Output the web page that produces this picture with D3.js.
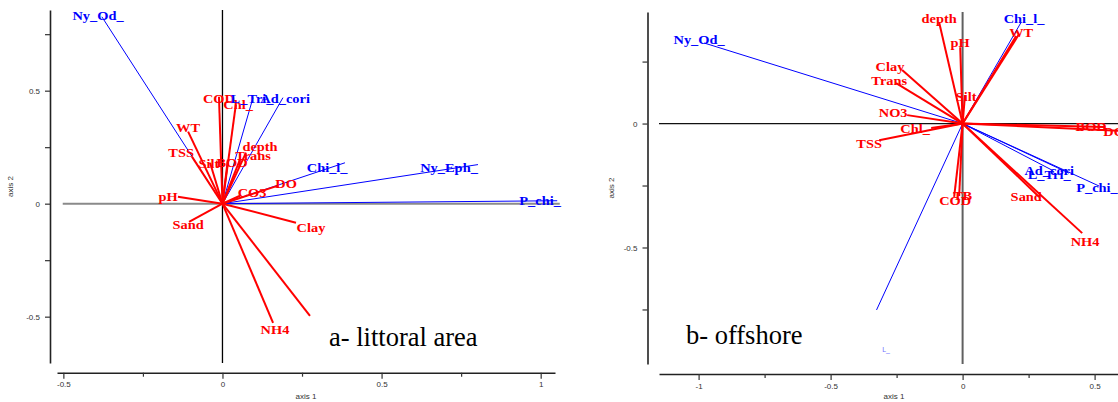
<!DOCTYPE html>
<html><head><meta charset="utf-8">
<script src="https://cdn.jsdelivr.net/npm/d3@7"></script>
<style>body{margin:0;background:#fff} svg{display:block}</style>
</head><body>
<svg id="c" width="1118" height="402"></svg>
<script>
// ---------- panel a : littoral area ----------
const aLabels = ["Ny_Od_","P_chi_","Ny_Eph_","Chi_l_","L_Tri_","Ad_cori","COD","Chl_","WT","TSS","Silt","BOD","depth","Trans","CO3","DO","pH","Sand","Clay","NH4",""];
const aGroups = ["sp","sp","sp","sp","sp","sp","env","env","env","env","env","env","env","env","env","env","env","env","env","env","env"];
const aAxis1  = [-0.379,1.052,0.803,0.385,0.096,0.190,-0.011,0.042,-0.108,-0.096,-0.039,0.017,0.074,0.055,0.055,0.175,-0.140,-0.105,0.231,0.159,0.275];
const aAxis2  = [0.827,0.013,0.173,0.181,0.469,0.469,0.473,0.438,0.319,0.208,0.181,0.195,0.226,0.195,0.035,0.080,0.031,-0.080,-0.084,-0.527,-0.496];
const aLab1   = [-0.391,0.998,0.712,0.329,0.093,0.197,-0.011,0.049,-0.108,-0.130,-0.043,0.030,0.118,0.096,0.093,0.200,-0.171,-0.108,0.278,0.165,0];
const aLab2   = [0.832,0.013,0.159,0.159,0.465,0.465,0.465,0.438,0.336,0.226,0.177,0.181,0.252,0.212,0.049,0.088,0.031,-0.093,-0.106,-0.558,0];
const aXTicks = [-0.5,-0.25,0,0.25,0.5,0.75,1];
const aXTickText = ["-0.5","","0","","0.5","","1"];
const aYTicks = [-0.5,-0.25,0,0.25,0.5,0.75];
const aYTickText = ["-0.5","","0","","0.5",""];
const aTitle = "a- littoral area";

// ---------- panel b : offshore ----------
const bLabels = ["Ny_Od_","Chi_l_","Ad_cori","L_Tri_","P_chi_","","depth","pH","WT","","Clay","Trans","Silt","NO3","Chl_","TSS","BOD","DO","COD","TB","Sand","NH4"];
const bGroups = ["sp","sp","sp","sp","sp","sp","env","env","env","env","env","env","env","env","env","env","env","env","env","env","env","env"];
const bAxis1  = [-0.979,0.222,0.403,0.339,0.517,-0.326,-0.089,-0.009,0.214,0.203,-0.229,-0.252,0.009,-0.210,-0.119,-0.316,0.536,0.612,-0.032,-0.013,0.290,0.453];
const bAxis2  = [0.325,0.409,-0.200,-0.188,-0.252,-0.752,0.409,0.308,0.361,0.353,0.216,0.163,0.115,0.034,-0.018,-0.067,-0.014,-0.030,-0.296,-0.292,-0.296,-0.442];
const bLab1   = [-0.998,0.233,0.328,0.328,0.509,0,-0.089,-0.009,0.222,0,-0.275,-0.278,0.013,-0.263,-0.180,-0.354,0.487,0.574,-0.028,0,0.241,0.464];
const bLab2   = [0.337,0.425,-0.192,-0.208,-0.260,0,0.425,0.325,0.365,0,0.228,0.171,0.107,0.042,-0.022,-0.083,-0.014,-0.034,-0.313,-0.292,-0.296,-0.478];
const bStrayText = ["L_"];
const bStray1 = [-0.290];
const bStray2 = [-0.917];
const bXTicks = [-1,-0.75,-0.5,-0.25,0,0.25,0.5];
const bXTickText = ["-1","","-0.5","","0","","0.5"];
const bYTicks = [-0.75,-0.5,-0.25,0,0.25];
const bYTickText = ["","-0.5","","0",""];
const bTitle = "b- offshore";

const svg = d3.select("#c");
const COLORS = {sp:"#0000ff", env:"#ff0000"};

function panel(cfg){
  const xs = d3.scaleLinear().domain(cfg.xDom).range(cfg.xRange);
  const ys = d3.scaleLinear().domain(cfg.yDom).range(cfg.yRange);
  const g = svg.append("g");

  // axes
  const xAx = d3.axisBottom(xs).tickValues(cfg.xTicks)
      .tickFormat((d,i)=>cfg.xTickText[i]).tickSizeOuter(0).tickSizeInner(6).tickPadding(3);
  const gx = g.append("g").attr("transform",`translate(0,${cfg.xAxisY})`).call(xAx);
  const yAx = d3.axisLeft(ys).tickValues(cfg.yTicks)
      .tickFormat((d,i)=>cfg.yTickText[i]).tickSizeOuter(0).tickSizeInner(5).tickPadding(5);
  const gy = g.append("g").attr("transform",`translate(${cfg.yAxisX},0)`).call(yAx);
  [gx,gy].forEach(a=>{
    a.select(".domain").attr("stroke","#222").attr("stroke-width",1.6);
    a.selectAll(".tick line").attr("stroke","#333").attr("stroke-width",1.2);
    a.selectAll(".tick text").attr("fill","#333").style("font-family","'Liberation Sans',Arial,sans-serif").style("font-size","8px");
  });
  gx.selectAll(".tick").filter((d,i)=>cfg.xTickText[i]==="").select("line").attr("y2",4);
  gy.selectAll(".tick").filter((d,i)=>cfg.yTickText[i]==="").select("line").attr("x2",-5);

  g.append("text").attr("x",(cfg.xRange[0]+cfg.xRange[1])/2 + cfg.xTitleShift).attr("y",399)
    .attr("text-anchor","middle").attr("fill","#333")
    .style("font-family","'Liberation Sans',Arial,sans-serif").style("font-size","8px").text("axis 1");
  g.append("text").attr("transform",`translate(${cfg.yTitleX},${(cfg.yRange[0]+cfg.yRange[1])/2}) rotate(-90)`)
    .attr("text-anchor","middle").attr("fill","#333")
    .style("font-family","'Liberation Sans',Arial,sans-serif").style("font-size","8px").text("axis 2");

  // origin lines
  g.append("line").attr("x1",xs(cfg.hLine[0])).attr("x2",xs(cfg.hLine[1])).attr("y1",ys(0)).attr("y2",ys(0))
    .attr("stroke",cfg.hColor).attr("stroke-width",cfg.hWidth);
  g.append("line").attr("x1",xs(0)).attr("x2",xs(0)).attr("y1",cfg.yRange[0]).attr("y2",cfg.yRange[1])
    .attr("stroke",cfg.vColor).attr("stroke-width",cfg.vWidth);

  const data = cfg.labels.map((l,i)=>({l, grp:cfg.groups[i], x:cfg.a1[i], y:cfg.a2[i], lx:cfg.l1[i], ly:cfg.l2[i]}));
  // vectors: blue first, then red
  ["sp","env"].forEach(grp=>{
    g.selectAll(null).data(data.filter(d=>d.grp===grp)).enter().append("line")
      .attr("x1",xs(0)).attr("y1",ys(0)).attr("x2",d=>xs(d.x)).attr("y2",d=>ys(d.y))
      .attr("stroke",COLORS[grp]).attr("stroke-width",grp==="sp"?1:2);
  });
  // labels: red first, then blue
  ["env","sp"].forEach(grp=>{
    g.selectAll(null).data(data.filter(d=>d.grp===grp && d.l!=="")).enter().append("text")
      .attr("transform",d=>`translate(${xs(d.lx)},${ys(d.ly)}) scale(1.2,1)`)
      .attr("dy","0.36em").attr("text-anchor","middle").attr("fill",COLORS[grp])
      .style("font-family","'Liberation Serif','Times New Roman',serif").style("font-weight","bold").style("font-size","12px")
      .text(d=>d.l);
  });
  if (cfg.stray) {
    g.selectAll(null).data(cfg.stray.t.map((t,i)=>({t,x:cfg.stray.x[i],y:cfg.stray.y[i]}))).enter().append("text")
      .attr("x",d=>xs(d.x)).attr("y",d=>ys(d.y)).attr("dy","0.2em").attr("text-anchor","middle")
      .attr("fill","#6f6fff").style("font-family","'Liberation Sans',sans-serif").style("font-size","7px").text(d=>d.t);
  }
  // panel title
  g.append("text").attr("x",cfg.titleX).attr("y",cfg.titleY).attr("fill","#000")
    .style("font-family","'Liberation Serif','Times New Roman',serif").style("font-size","26.5px").text(cfg.title);
}

panel({
  xDom:[-0.52,1.045], xRange:[57,555], yDom:[-0.705,0.857], yRange:[363,10],
  xAxisY:372.7, yAxisX:50, xTicks:aXTicks, xTickText:aXTickText, yTicks:aYTicks, yTickText:aYTickText,
  xTitleShift:0, yTitleX:13,
  hLine:[-0.502,1.06], hColor:"#8a8a8a", hWidth:2, vColor:"#000", vWidth:1.3,
  labels:aLabels, groups:aGroups, a1:aAxis1, a2:aAxis2, l1:aLab1, l2:aLab2,
  title:aTitle, titleX:329, titleY:346
});
panel({
  xDom:[-1.15,0.6], xRange:[659,1121], yDom:[-0.97,0.45], yRange:[364,12],
  xAxisY:374, yAxisX:647.5, xTicks:bXTicks, xTickText:bXTickText, yTicks:bYTicks, yTickText:bYTickText,
  xTitleShift:4, yTitleX:614,
  hLine:[-1.15,0.6], hColor:"#111", hWidth:1.3, vColor:"#606060", vWidth:2,
  labels:bLabels, groups:bGroups, a1:bAxis1, a2:bAxis2, l1:bLab1, l2:bLab2,
  stray:{t:bStrayText, x:bStray1, y:bStray2},
  title:bTitle, titleX:686, titleY:344
});
</script>
</body></html>
